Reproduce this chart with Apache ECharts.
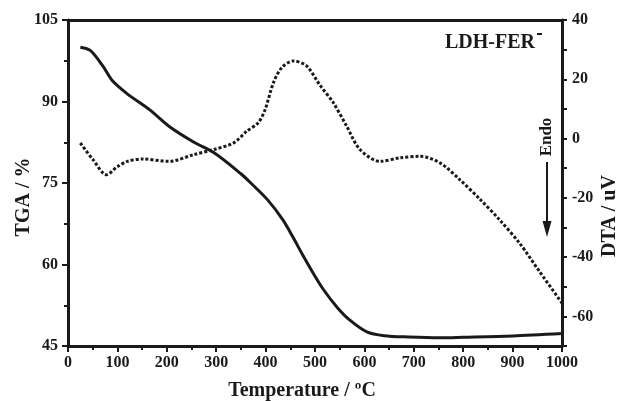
<!DOCTYPE html>
<html>
<head>
<meta charset="utf-8">
<script src="https://cdn.jsdelivr.net/npm/echarts@6/dist/echarts.min.js"></script>
<style>html,body{margin:0;padding:0;background:#fff}#c{width:622px;height:401px}</style>
</head>
<body>
<div id="c"></div>
<script>
// TGA curve (solid), temperature in °C, mass in %
var tgaT = [25, 45, 70, 90, 120, 165, 205, 255, 295, 350, 370, 405, 435, 455, 476, 497, 517, 545, 570, 605, 640, 690, 750, 800, 900, 1000];
var tgaV = [100, 99.4, 96.6, 93.8, 91.4, 88.5, 85.4, 82.5, 80.6, 76.7, 75, 71.8, 68.2, 65.1, 61.6, 58.3, 55.4, 52.1, 49.8, 47.6, 46.9, 46.65, 46.5, 46.6, 46.85, 47.3];
// DTA curve (dotted), uV
var dtaT = [25, 50, 78, 100, 120, 150, 205, 255, 295, 335, 362, 385, 399, 416, 433, 456, 483, 510, 537, 564, 591, 632, 672, 713, 753, 794, 834, 874, 915, 955, 1000];
var dtaV = [-1.5, -7, -12.2, -9.5, -7.7, -6.9, -7.7, -5.4, -3.7, -1.5, 2.5, 5.3, 9.8, 18.9, 24, 26.2, 24.5, 18, 12.1, 4.2, -3.7, -7.7, -6.5, -6, -8.2, -14, -20.5, -27.5, -35.5, -45, -55.5];
var xTicks = {min: 0, max: 1000, interval: 100};
var tgaTicks = {min: 45, max: 105, interval: 15};
var dtaTicks = {min: -70, max: 40, interval: 10};

function pairs(xs, ys) { return xs.map(function (x, i) { return [x, ys[i]]; }); }

var ink = '#1a1a1a';
var lblFont = {fontFamily: '"Liberation Serif", "Times New Roman", serif', fontWeight: 'bold', fontSize: 16, color: ink};
var axisLine = {show: true, onZero: false, lineStyle: {color: ink, width: 3}};
var tick = {show: true, inside: false, length: 6, lineStyle: {color: ink, width: 2}};
var minor = {show: true, splitNumber: 2, length: 4, lineStyle: {color: ink, width: 2}};

var chart = echarts.init(document.getElementById('c'));
chart.setOption({
  animation: false,
  backgroundColor: '#fff',
  grid: {left: 68, right: 60, top: 20, bottom: 55},
  xAxis: [{
    type: 'value', position: 'bottom', min: xTicks.min, max: xTicks.max, interval: xTicks.interval,
    axisLine: axisLine, axisTick: tick, minorTick: minor,
    splitLine: {show: false}, minorSplitLine: {show: false},
    axisLabel: Object.assign({margin: 9, formatter: function (v) { return String(v); }}, lblFont)
  }, {
    type: 'value', position: 'top', min: xTicks.min, max: xTicks.max,
    axisLine: axisLine, axisTick: {show: false}, axisLabel: {show: false}, splitLine: {show: false}
  }],
  yAxis: [{
    type: 'value', position: 'left', min: tgaTicks.min, max: tgaTicks.max, interval: tgaTicks.interval,
    axisLine: axisLine, axisTick: tick, minorTick: minor,
    splitLine: {show: false}, minorSplitLine: {show: false},
    axisLabel: Object.assign({margin: 10}, lblFont)
  }, {
    type: 'value', position: 'right', min: dtaTicks.min, max: dtaTicks.max, interval: dtaTicks.interval,
    axisLine: axisLine, axisTick: {show: true, inside: false, length: 5, lineStyle: {color: ink, width: 2}},
    splitLine: {show: false},
    axisLabel: Object.assign({margin: 10, formatter: function (v) { return v % 20 === 0 ? String(v) : ''; }}, lblFont)
  }],
  series: [{
    type: 'line', name: 'TGA', xAxisIndex: 0, yAxisIndex: 0,
    data: pairs(tgaT, tgaV), smooth: 0.3, showSymbol: false,
    lineStyle: {color: ink, width: 3}
  }, {
    type: 'line', name: 'DTA', xAxisIndex: 0, yAxisIndex: 1,
    data: pairs(dtaT, dtaV), smooth: 0.3, showSymbol: false,
    lineStyle: {color: ink, width: 3, type: [3, 2], cap: 'butt'}
  }],
  graphic: [
    {type: 'text', x: 24, y: 197, rotation: Math.PI / 2,
     style: {text: 'TGA / %', textAlign: 'center', textVerticalAlign: 'middle', fill: ink,
             font: 'bold 20px "Liberation Serif", serif'}},
    {type: 'text', x: 610, y: 216, rotation: Math.PI / 2,
     style: {text: 'DTA / uV', textAlign: 'center', textVerticalAlign: 'middle', fill: ink,
             font: 'bold 20px "Liberation Serif", serif'}},
    {type: 'text', x: 302, y: 391,
     style: {text: 'Temperature / \u00baC', textAlign: 'center', textVerticalAlign: 'middle', fill: ink,
             font: 'bold 20px "Liberation Serif", serif'}},
    {type: 'text', x: 445, y: 43,
     style: {text: 'LDH-FER', textAlign: 'left', textVerticalAlign: 'middle', fill: ink,
             font: 'bold 20px "Liberation Serif", serif'}},
    {type: 'rect', shape: {x: 537, y: 33, width: 5, height: 2}, style: {fill: ink}},
    {type: 'text', x: 547, y: 137, rotation: Math.PI / 2,
     style: {text: 'Endo', textAlign: 'center', textVerticalAlign: 'middle', fill: ink,
             font: 'bold 17px "Liberation Serif", serif'}},
    {type: 'line', shape: {x1: 547, y1: 162, x2: 547, y2: 226}, style: {stroke: ink, lineWidth: 2}},
    {type: 'polygon', shape: {points: [[542.5, 221], [551.5, 221], [547, 237]]}, style: {fill: ink}}
  ]
});
</script>
</body>
</html>
